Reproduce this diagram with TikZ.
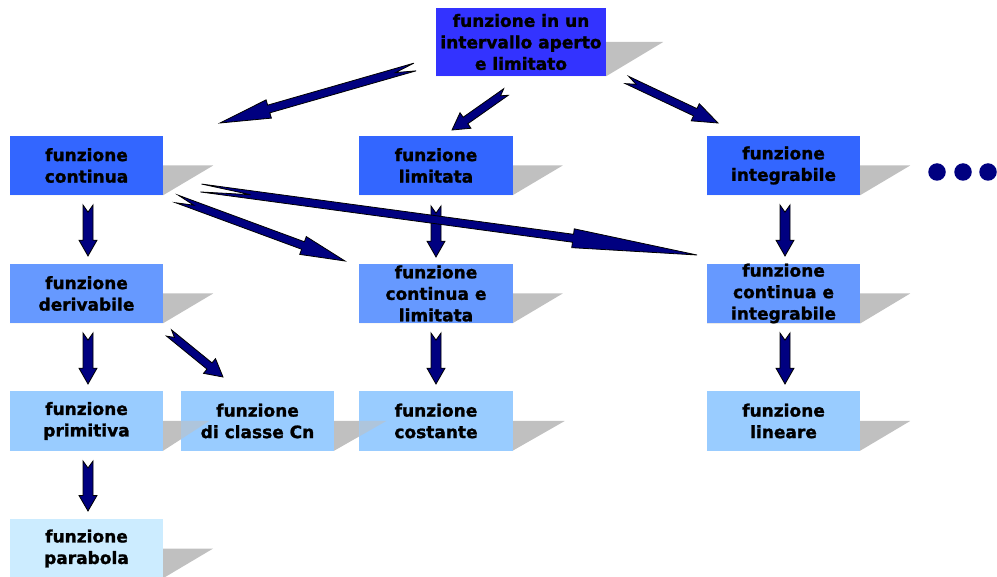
\documentclass[tikz,border=0pt]{standalone}
\usepackage{fontspec}
\setmainfont{DejaVu Sans}[BoldFeatures={FakeBold=1.3}]
\usetikzlibrary{calc,backgrounds}

\definecolor{toplevel}{RGB}{51,51,255}
\definecolor{levelone}{RGB}{51,102,255}
\definecolor{leveltwo}{RGB}{102,153,255}
\definecolor{levelthree}{RGB}{153,204,255}
\definecolor{levelfour}{RGB}{204,236,255}
\definecolor{arrownavy}{RGB}{0,0,128}
\definecolor{shadegray}{RGB}{192,192,192}

\tikzset{
  conceptbox/.style={minimum width=153pt, minimum height=59pt, inner sep=0pt,
    align=center, font=\fontsize{17}{21.5}\selectfont\bfseries},
  boxshade/.style={fill=shadegray},
  fatbody/.style={fill=arrownavy, draw=black, line width=0.8pt, line join=miter},
  dot/.style={circle, fill=arrownavy, minimum size=17.5pt, inner sep=0pt}
}

% skewed drop shadow behind a box: #1 node name, #2 horizontal skew
\newcommand\shadowof[2]{%
  \fill[boxshade] ($(#1.east)+(#2,0)$) -- ($(#1.west)+(#2,0)$)
    -- (#1.south west) -- (#1.south east) -- cycle;}
% shadow, then the coloured face of the box
\newcommand\boxface[3]{%
  \shadowof{#1}{#3}%
  \fill[#2] (#1.south west) rectangle (#1.north east);}

% block arrow with a swallow tail
% #1 tail, #2 tip, #3 half shaft width, #4 half head width,
% #5 position of the head base, #6 depth of the notch
\newcommand\fatarrow[6]{%
  \coordinate (fah) at ($(#1)!#5!(#2)$);
  \draw[fatbody] ($(#1)!#3!90:(#2)$) -- ($(fah)!#3!90:(#2)$)
    -- ($(fah)!#4!90:(#2)$) -- (#2) -- ($(fah)!#4!-90:(#2)$)
    -- ($(fah)!#3!-90:(#2)$) -- ($(#1)!#3!-90:(#2)$)
    -- ($(#1)!#6!(#2)$) -- cycle;}
\newcommand\slantarrow[2]{\fatarrow{#1}{#2}{4pt}{9.5pt}{0.75}{0.1}}
\newcommand\droparrow[2]{\fatarrow{#1}{#2}{5pt}{9pt}{0.69}{0.14}}

\begin{document}
\begin{tikzpicture}[x=1pt,y=-1pt]
\useasboundingbox (0,0) rectangle (997,577);

% concept boxes (text only; faces are painted on the background layer)
\node[conceptbox, minimum width=170pt, minimum height=68pt] (root) at (521,42)
  {funzione in un\\intervallo aperto\\e limitato};

\node[conceptbox] (cont)   at (86.5,165.5) {funzione\\continua};
\node[conceptbox] (lim)    at (436,165.5)  {funzione\\limitata};
\node[conceptbox] (integ)  at (783.5,165.5){funzione\\integrabile};

\node[conceptbox] (deriv)  at (86.5,293.5) {funzione\\derivabile};
\node[conceptbox] (contlim) at (436,293.5) {funzione\\continua e\\limitata};
\node[conceptbox] (contint) at (783.5,293.5){funzione\\continua e\\integrabile};

\node[conceptbox] (prim)   at (86.5,421)   {funzione\\primitiva};
\node[conceptbox] (cn)     at (257.5,421)  {funzione\\di classe Cn};
\node[conceptbox] (cost)   at (436,421)    {funzione\\costante};
\node[conceptbox] (lin)    at (783.5,421)  {funzione\\lineare};

\node[conceptbox] (parab)  at (86.5,548.5) {funzione\\parabola};

\begin{pgfonlayer}{background}
  \boxface{root}{toplevel}{57}
  \boxface{cont}{levelone}{50}
  \boxface{lim}{levelone}{50}
  \boxface{integ}{levelone}{50}
  \boxface{deriv}{leveltwo}{50}
  \boxface{contlim}{leveltwo}{50}
  \boxface{contint}{leveltwo}{50}
  \boxface{prim}{levelthree}{46}
  \boxface{cn}{levelthree}{52}
  \boxface{cost}{levelthree}{52}
  \boxface{lin}{levelthree}{50}
  \boxface{parab}{levelfour}{50}
  % shadows of the third row that fall across the next box
  \begin{scope}[fill opacity=0.55]
    \begin{scope}
      \clip (cn.south west) rectangle (cn.north east);
      \shadowof{prim}{46}
    \end{scope}
    \begin{scope}
      \clip (cost.south west) rectangle (cost.north east);
      \shadowof{cn}{52}
    \end{scope}
  \end{scope}
\end{pgfonlayer}

% arrow end points
\coordinate (r1t) at (415,67);   \coordinate (r1h) at (220,123);
\coordinate (r2t) at (506,92);   \coordinate (r2h) at (452,130);
\coordinate (r3t) at (627,80);   \coordinate (r3h) at (718,123);
\coordinate (c1t) at (88,205);   \coordinate (c1h) at (88,256);
\coordinate (l1t) at (436,206);  \coordinate (l1h) at (436,257);
\coordinate (i1t) at (785,205);  \coordinate (i1h) at (785,256);
\coordinate (c2t) at (177,199);  \coordinate (c2h) at (345,261);
\coordinate (c3t) at (201,188);  \coordinate (c3h) at (697,255);
\coordinate (d1t) at (88,333);   \coordinate (d1h) at (88,384);
\coordinate (d2t) at (169,333);  \coordinate (d2h) at (223,377);
\coordinate (m1t) at (436,333);  \coordinate (m1h) at (436,384);
\coordinate (n1t) at (785,333);  \coordinate (n1h) at (785,384);
\coordinate (p1t) at (88,461);   \coordinate (p1h) at (88,511);

\slantarrow{r1t}{r1h}
\slantarrow{r2t}{r2h}
\slantarrow{r3t}{r3h}
\droparrow{c1t}{c1h}
\droparrow{l1t}{l1h}
\droparrow{i1t}{i1h}
\slantarrow{c2t}{c2h}
\slantarrow{c3t}{c3h}
\droparrow{d1t}{d1h}
\slantarrow{d2t}{d2h}
\droparrow{m1t}{m1h}
\droparrow{n1t}{n1h}
\droparrow{p1t}{p1h}

% ellipsis after the first row
\node[dot] (more1) at (937,172) {};
\node[dot] (more2) at (963,172) {};
\node[dot] (more3) at (988,172) {};
\end{tikzpicture}
\end{document}
